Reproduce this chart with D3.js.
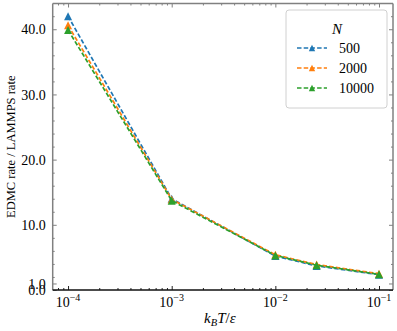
<!DOCTYPE html>
<html>
<head>
<meta charset="utf-8">
<script src="https://cdnjs.cloudflare.com/ajax/libs/d3/7.8.5/d3.min.js"></script>
<style>
  body { margin: 0; background: #fff; }
  text { font-family: "Liberation Serif", "Times New Roman", serif; fill: #000; }
  .line { fill: none; stroke-width: 1.7px; stroke-dasharray: 4.5, 2.2; }
</style>
</head>
<body>
<script>
// valeurs
var temps = [1e-4, 1e-3, 1e-2, 2.5e-2, 1e-1];
var sizes = ["500", "2000", "10000"];
var rate500 = [42.0, 14.0, 5.2, 3.7, 2.35];
var rate2000 = [40.6, 13.9, 5.4, 3.9, 2.5];
var rate10000 = [39.9, 13.7, 5.3, 3.8, 2.4];
var yTicks = [0, 1, 10, 20, 30, 40];
var xTicks = [1e-4, 1e-3, 1e-2, 1e-1];
var xTickExp = ["\u22124", "\u22123", "\u22122", "\u22121"];

var colors = ["#1f77b4", "#ff7f0e", "#2ca02c"];
var series = [rate500, rate2000, rate10000];

var W = 397, H = 331;
var margin = {top: 3.5, right: 4, bottom: 41, left: 52.7},
    width = W - margin.left - margin.right,
    height = H - margin.top - margin.bottom;

var x = d3.scaleLog().domain([Math.pow(10, -4.148), Math.pow(10, -0.865)]).range([0, width]);
var y = d3.scaleLinear().domain([0, 43.95]).range([height, 0]);

var svg = d3.select("body").append("svg")
  .attr("width", W).attr("height", H);
var g = svg.append("g")
  .attr("transform", "translate(" + margin.left + "," + margin.top + ")");

// ticks mineurs
var yMinor = d3.range(2, 44, 2).filter(function(v) { return v % 10 !== 0; });
var xMinor = [];
[-5, -4, -3, -2, -1].forEach(function(e) {
  for (var m = 2; m < 10; m++) {
    var v = m * Math.pow(10, e);
    if (v > x.domain()[0] && v < x.domain()[1]) xMinor.push(v);
  }
});

function styleAxis(sel, col) {
  sel.select(".domain").remove();
  sel.selectAll(".tick line").attr("stroke", col).attr("stroke-width", 1);
}

// axe gauche
var gl = g.append("g")
  .call(d3.axisLeft(y).tickValues(yTicks).tickFormat(d3.format(".1f"))
    .tickSizeInner(-4).tickSizeOuter(0).tickPadding(7));
styleAxis(gl, "#808080");
gl.selectAll("text").attr("font-size", "14px").attr("dy", "0.33em");
g.append("g")
  .call(d3.axisLeft(y).tickValues(yMinor).tickFormat("").tickSizeInner(-2).tickSizeOuter(0))
  .call(styleAxis, "#808080");

// axe droit
g.append("g").attr("transform", "translate(" + width + ",0)")
  .call(d3.axisRight(y).tickValues(yTicks).tickFormat("").tickSizeInner(-4).tickSizeOuter(0))
  .call(styleAxis, "#808080");
g.append("g").attr("transform", "translate(" + width + ",0)")
  .call(d3.axisRight(y).tickValues(yMinor).tickFormat("").tickSizeInner(-2).tickSizeOuter(0))
  .call(styleAxis, "#808080");

// axe haut
g.append("g")
  .call(d3.axisTop(x).tickValues(xTicks).tickFormat("").tickSizeInner(-4).tickSizeOuter(0))
  .call(styleAxis, "#808080");
g.append("g")
  .call(d3.axisTop(x).tickValues(xMinor).tickFormat("").tickSizeInner(-2).tickSizeOuter(0))
  .call(styleAxis, "#808080");

// axe bas
var gb = g.append("g").attr("transform", "translate(0," + height + ")")
  .call(d3.axisBottom(x).tickValues(xTicks).tickFormat("").tickSizeInner(-4).tickSizeOuter(0));
styleAxis(gb, "#222");
g.append("g").attr("transform", "translate(0," + height + ")")
  .call(d3.axisBottom(x).tickValues(xMinor).tickFormat("").tickSizeInner(-2).tickSizeOuter(0))
  .call(styleAxis, "#222");

// étiquettes 10^n
xTicks.forEach(function(v, i) {
  var t = g.append("text")
    .attr("x", x(v)).attr("y", height + 17)
    .attr("text-anchor", "middle").attr("font-size", "14px");
  t.append("tspan").text("10");
  t.append("tspan").attr("dy", "-6").attr("font-size", "10px").text(xTickExp[i]);
});

// cadre
g.append("line").attr("x1", 0).attr("x2", 0).attr("y1", 0).attr("y2", height)
  .attr("stroke", "#808080").attr("stroke-width", 1.5);
g.append("line").attr("x1", 0).attr("x2", width).attr("y1", 0).attr("y2", 0)
  .attr("stroke", "#808080").attr("stroke-width", 1.5);
g.append("line").attr("x1", width).attr("x2", width).attr("y1", 0).attr("y2", height)
  .attr("stroke", "#808080").attr("stroke-width", 1.5);
g.append("line").attr("x1", 0).attr("x2", width).attr("y1", height).attr("y2", height)
  .attr("stroke", "#111").attr("stroke-width", 1.5);

// courbes
var line = d3.line()
  .x(function(d, i) { return x(temps[i]); })
  .y(function(d) { return y(d); });

function tri(s) {
  return "M0," + (-s) + "L" + s + "," + s + "L" + (-s) + "," + s + "Z";
}

series.forEach(function(s, k) {
  g.append("path").datum(s)
    .attr("class", "line")
    .attr("stroke", colors[k])
    .attr("d", line);
  g.selectAll(".m" + k).data(s).enter().append("path")
    .attr("class", "m" + k)
    .attr("transform", function(d, i) { return "translate(" + x(temps[i]) + "," + y(d) + ")"; })
    .attr("d", tri(4))
    .attr("fill", colors[k]);
});

// titres des axes
g.append("text")
  .attr("transform", "translate(" + (-38) + "," + (height / 2) + ") rotate(-90)")
  .attr("text-anchor", "middle").attr("font-size", "12.5px")
  .text("EDMC rate / LAMMPS rate");

var xl = svg.append("text")
  .attr("x", margin.left + width / 2 - 3).attr("y", 323)
  .attr("text-anchor", "middle").attr("font-size", "15px");
xl.append("tspan").attr("font-style", "italic").text("k");
xl.append("tspan").attr("font-style", "italic").attr("font-size", "10.5px").attr("dy", "3").text("B");
xl.append("tspan").attr("font-style", "italic").attr("dy", "-3").text("T");
xl.append("tspan").text("/");
xl.append("tspan").attr("font-style", "italic").text("\u03b5");

// légende
var lg = svg.append("g").attr("transform", "translate(286,10)");
lg.append("rect")
  .attr("width", 101).attr("height", 98).attr("rx", 3)
  .attr("fill", "#fff").attr("fill-opacity", 0.8)
  .attr("stroke", "#d0d0d0").attr("stroke-width", 1);
lg.append("text").attr("x", 51).attr("y", 24)
  .attr("text-anchor", "middle").attr("font-size", "15px").attr("font-style", "italic")
  .text("N");
sizes.forEach(function(n, k) {
  var yy = 38 + k * 20;
  lg.append("line")
    .attr("x1", 11).attr("x2", 41).attr("y1", yy).attr("y2", yy)
    .attr("class", "line").attr("stroke", colors[k]);
  lg.append("path")
    .attr("transform", "translate(26," + yy + ")")
    .attr("d", tri(3.2)).attr("fill", colors[k]);
  lg.append("text").attr("x", 53).attr("y", yy + 5)
    .attr("font-size", "14px").text(n);
});
</script>
</body>
</html>
